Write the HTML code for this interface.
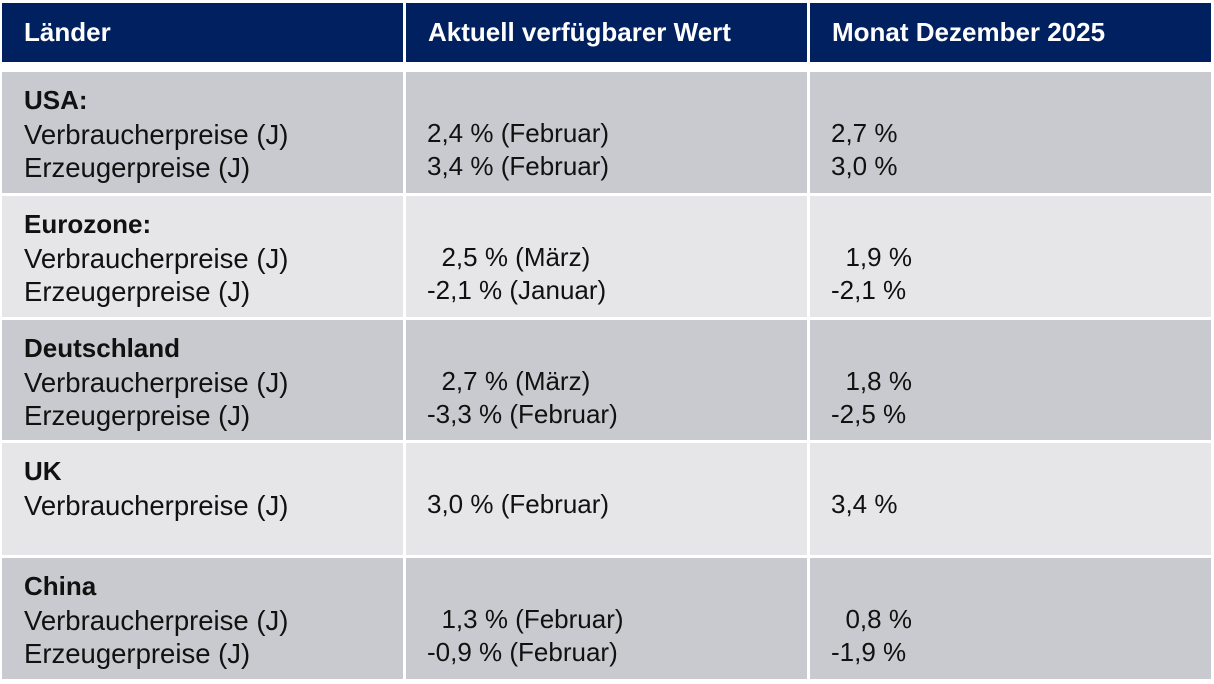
<!DOCTYPE html>
<html><head><meta charset="utf-8"><style>
body{margin:0;width:1214px;height:684px;background:#fff;position:relative;overflow:hidden;font-family:"Liberation Sans",Arial,sans-serif;}
.c{position:absolute;}
.h{background:#002060;color:#fff;font-weight:bold;font-size:26px;line-height:59px;padding-left:22px;box-sizing:border-box;top:3px;height:59px;}
.d{background:#c9cacf;}
.l{background:#e6e6e8;}
.t{position:absolute;font-size:27.5px;line-height:33.5px;color:#111;white-space:pre;}
.v{font-size:26px;}
b{font-weight:bold;font-size:26px;}
</style></head><body>
<div class="c h" style="left:2px;width:401px">Länder</div>
<div class="c h" style="left:406px;width:401px">Aktuell verfügbarer Wert</div>
<div class="c h" style="left:810px;width:401px">Monat Dezember 2025</div>

<div class="c d" style="left:2px;width:401px;top:72px;height:121px"></div>
<div class="c d" style="left:406px;width:401px;top:72px;height:121px"></div>
<div class="c d" style="left:810px;width:401px;top:72px;height:121px"></div>
<div class="c l" style="left:2px;width:401px;top:196px;height:121px"></div>
<div class="c l" style="left:406px;width:401px;top:196px;height:121px"></div>
<div class="c l" style="left:810px;width:401px;top:196px;height:121px"></div>
<div class="c d" style="left:2px;width:401px;top:320px;height:120px"></div>
<div class="c d" style="left:406px;width:401px;top:320px;height:120px"></div>
<div class="c d" style="left:810px;width:401px;top:320px;height:120px"></div>
<div class="c l" style="left:2px;width:401px;top:443px;height:112px"></div>
<div class="c l" style="left:406px;width:401px;top:443px;height:112px"></div>
<div class="c l" style="left:810px;width:401px;top:443px;height:112px"></div>
<div class="c d" style="left:2px;width:401px;top:558px;height:121px"></div>
<div class="c d" style="left:406px;width:401px;top:558px;height:121px"></div>
<div class="c d" style="left:810px;width:401px;top:558px;height:121px"></div>

<div class="t" style="left:24px;top:83px"><b>USA:</b>
Verbraucherpreise (J)
Erzeugerpreise (J)</div>
<div class="t v" style="left:427px;top:83px">
2,4 % (Februar)
3,4 % (Februar)</div>
<div class="t v" style="left:831px;top:83px">
2,7 %
3,0 %</div>

<div class="t" style="left:24px;top:207px"><b>Eurozone:</b>
Verbraucherpreise (J)
Erzeugerpreise (J)</div>
<div class="t v" style="left:427px;top:207px">
  2,5 % (März)
-2,1 % (Januar)</div>
<div class="t v" style="left:831px;top:207px">
  1,9 %
-2,1 %</div>

<div class="t" style="left:24px;top:331px"><b>Deutschland</b>
Verbraucherpreise (J)
Erzeugerpreise (J)</div>
<div class="t v" style="left:427px;top:331px">
  2,7 % (März)
-3,3 % (Februar)</div>
<div class="t v" style="left:831px;top:331px">
  1,8 %
-2,5 %</div>

<div class="t" style="left:24px;top:454px"><b>UK</b>
Verbraucherpreise (J)</div>
<div class="t v" style="left:427px;top:454px">
3,0 % (Februar)</div>
<div class="t v" style="left:831px;top:454px">
3,4 %</div>

<div class="t" style="left:24px;top:569px"><b>China</b>
Verbraucherpreise (J)
Erzeugerpreise (J)</div>
<div class="t v" style="left:427px;top:569px">
  1,3 % (Februar)
-0,9 % (Februar)</div>
<div class="t v" style="left:831px;top:569px">
  0,8 %
-1,9 %</div>
</body></html>
